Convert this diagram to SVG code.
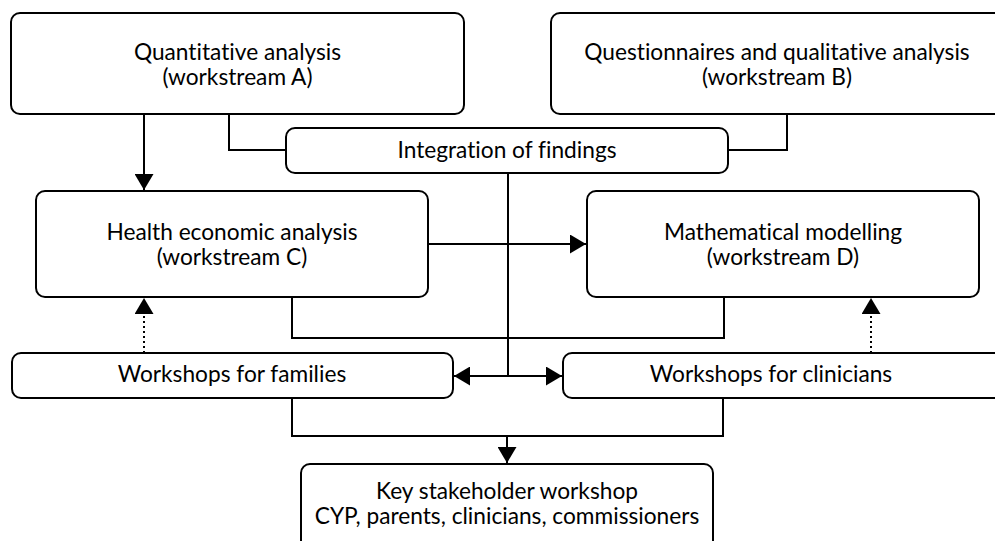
<svg xmlns="http://www.w3.org/2000/svg" width="995" height="541" viewBox="0 0 995 541">
<style>
.box{fill:#fff;stroke:#000;stroke-width:2}
.t{font-family:Lato,"Open Sans",sans-serif;font-size:22.7px;fill:#000;text-anchor:middle;font-variant-ligatures:none;font-feature-settings:"liga" 0}
.ln{fill:none;stroke:#000;stroke-width:2}
.dot{fill:none;stroke:#000;stroke-width:2;stroke-dasharray:2 3}
</style>
<defs>
<marker id="ah" markerUnits="userSpaceOnUse" markerWidth="16" markerHeight="19" refX="16" refY="9.5" orient="auto">
<path d="M0,0 L16,9.5 L0,19 z" fill="#000"/>
</marker>
</defs>
<g id="connectors">
<path class="ln" d="M229,114 V150 H286"/>
<path class="ln" d="M787,114 V150 H728"/>
<path class="ln" d="M144,114 V190" marker-end="url(#ah)"/>
<path class="ln" d="M428,244 H586" marker-end="url(#ah)"/>
<path class="ln" d="M292,297 V338 H724 V297"/>
<path class="ln" d="M508,173 V376"/>
<path class="ln" d="M508,376 H454" marker-end="url(#ah)"/>
<path class="ln" d="M508,376 H562" marker-end="url(#ah)"/>
<path class="dot" d="M144,353 V298" marker-end="url(#ah)"/>
<path class="dot" d="M871,353 V298" marker-end="url(#ah)"/>
<path class="ln" d="M292,398 V436 H723 V398"/>
<path class="ln" d="M507,436 V463" marker-end="url(#ah)"/>
</g>
<g id="nodeA"><rect class="box" x="11" y="13" width="453" height="101" rx="9"/><text class="t" x="237.5" y="60">Quantitative analysis</text><text class="t" x="237.5" y="85">(workstream A)</text></g>
<g id="nodeB"><rect class="box" x="551" y="13" width="460" height="101" rx="9"/><text class="t" x="777" y="60">Questionnaires and qualitative analysis</text><text class="t" x="777" y="85">(workstream B)</text></g>
<g id="nodeInt"><rect class="box" x="286" y="128" width="442" height="45" rx="9"/><text class="t" x="507" y="158">Integration of findings</text></g>
<g id="nodeC"><rect class="box" x="36" y="191" width="392" height="106" rx="9"/><text class="t" x="232" y="240">Health economic analysis</text><text class="t" x="232" y="265">(workstream C)</text></g>
<g id="nodeD"><rect class="box" x="587" y="191" width="392" height="106" rx="9"/><text class="t" x="783" y="240">Mathematical modelling</text><text class="t" x="783" y="265">(workstream D)</text></g>
<g id="nodeF"><rect class="box" x="12" y="353" width="441" height="45" rx="9"/><text class="t" x="232" y="382">Workshops for families</text></g>
<g id="nodeCl"><rect class="box" x="563" y="353" width="450" height="45" rx="9"/><text class="t" x="771" y="382">Workshops for clinicians</text></g>
<g id="nodeK"><rect class="box" x="301" y="464" width="412" height="90" rx="9"/><text class="t" x="507" y="499">Key stakeholder workshop</text><text class="t" x="507" y="524">CYP, parents, clinicians, commissioners</text></g>
</svg>
